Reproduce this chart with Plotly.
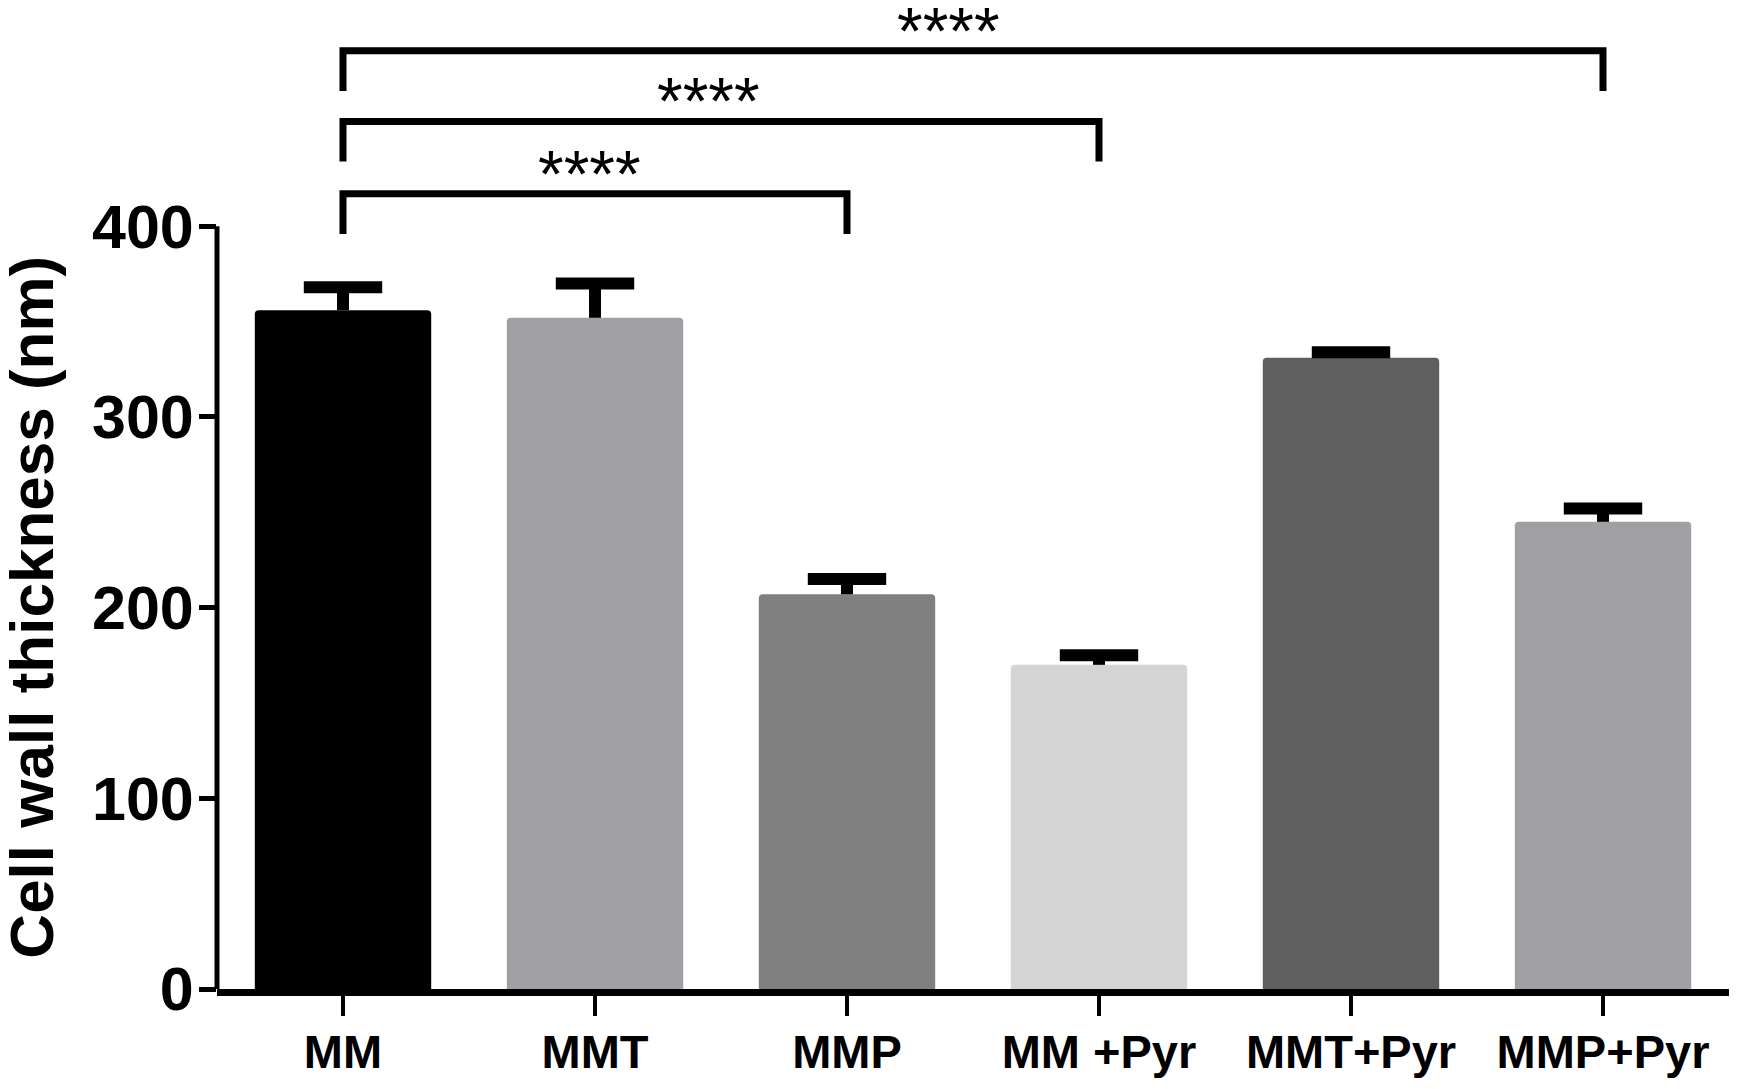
import plotly.graph_objects as go

groups = ["MM", "MMT", "MMP", "MM +Pyr", "MMT+Pyr", "MMP+Pyr"]
thickness = [356, 352, 207, 170, 331, 245]
sem = [12, 18, 8, 5, 3, 7]
bar_colors = ["#000000", "#a0a0a4", "#808080", "#d4d4d4", "#5f5f5f", "#a0a0a4"]

# significance brackets: (from, to), height of the bracket line, label
pairs = [("MM", "MMP"), ("MM", "MM +Pyr"), ("MM", "MMP+Pyr")]
bracket_top = [417, 455, 492]
leg = 21
stars = ["****", "****", "****"]
star_shift = [-6, -13, -25]

FONT = "Arial, Liberation Sans, sans-serif"

fig = go.Figure()
fig.add_trace(go.Bar(
    x=groups,
    y=thickness,
    marker=dict(color=bar_colors, line=dict(width=0), cornerradius=4),
    width=0.7,
    showlegend=False,
))

# upper-only error bars (prism style): cap marker at mean+sem, stem down to the bar
fig.add_trace(go.Scatter(
    x=groups,
    y=[m + s for m, s in zip(thickness, sem)],
    mode="markers",
    marker=dict(symbol="line-ew", size=56, color="black",
                line=dict(width=12, color="black")),
    error_y=dict(type="data", symmetric=False, array=[0] * len(sem),
                 arrayminus=sem, color="black", thickness=12, width=0),
    showlegend=False,
    hoverinfo="skip",
))

for (a, b), top in zip(pairs, bracket_top):
    fig.add_trace(go.Scatter(
        x=[a, a, b, b],
        y=[top - leg, top, top, top - leg],
        mode="lines",
        line=dict(color="black", width=7),
        showlegend=False,
        hoverinfo="skip",
    ))

for (a, b), top, s, dx in zip(pairs, bracket_top, stars, star_shift):
    mid = (groups.index(a) + groups.index(b)) / 2
    fig.add_annotation(x=mid, y=top, text=s, showarrow=False,
                       xref="x", yref="y", yanchor="bottom", xshift=dx,
                       yshift=-19, font=dict(family=FONT, size=66, color="black"))

# y axis line only up to 400, as in the original figure
fig.add_shape(type="line", xref="paper", yref="y", x0=0, x1=0, y0=0, y1=400,
              line=dict(color="black", width=5))

fig.add_annotation(x=0, y=200, xref="paper", yref="y", xshift=-185,
                   xanchor="center", yanchor="middle",
                   text="<b>Cell wall thickness (nm)</b>", textangle=-90,
                   showarrow=False,
                   font=dict(family=FONT, size=62, color="black"))

fig.update_xaxes(
    range=[-0.5, 5.5],
    showline=True, linecolor="black", linewidth=7,
    ticks="outside", ticklen=20, tickwidth=4, tickcolor="black",
    ticklabelstandoff=-4,
    tickfont=dict(family=FONT, size=47, color="black", weight="bold"),
    showgrid=False, zeroline=False,
)
fig.update_yaxes(
    range=[0, 515],
    tickvals=[0, 100, 200, 300, 400],
    ticks="outside", ticklen=17, tickwidth=5, tickcolor="black",
    ticklabelstandoff=-7,
    tickfont=dict(family=FONT, size=61, color="black", weight="bold"),
    showline=False, showgrid=False, zeroline=False,
)
fig.update_layout(
    width=1751, height=1089,
    margin=dict(l=217, r=22, t=7, b=100),
    plot_bgcolor="white", paper_bgcolor="white",
    font=dict(family=FONT),
)

# drop the default page margin so the figure sits at the window corner
fig.write_html("out.html", config={"displayModeBar": False},
               post_script="document.body.style.margin = '0';")
